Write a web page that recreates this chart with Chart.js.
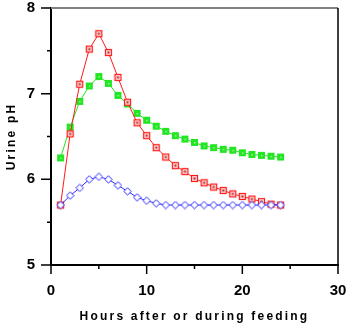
<!DOCTYPE html>
<html><head><meta charset="utf-8">
<script src="https://cdn.jsdelivr.net/npm/chart.js@4/dist/chart.umd.min.js"></script>
<style>html,body{margin:0;padding:0;background:#fff}#wrap{width:352px;height:330px}</style>
</head><body><div id="wrap"><canvas id="c"></canvas></div>
<script>
const hours = [1,2,3,4,5,6,7,8,9,10,11,12,13,14,15,16,17,18,19,20,21,22,23,24];
const redSeries = [5.70,6.53,7.11,7.52,7.70,7.48,7.19,6.90,6.66,6.51,6.37,6.26,6.16,6.09,6.01,5.96,5.91,5.87,5.83,5.80,5.77,5.74,5.71,5.70];
const greenSeries = [6.25,6.61,6.91,7.09,7.20,7.12,6.98,6.88,6.77,6.69,6.62,6.56,6.51,6.47,6.43,6.39,6.37,6.35,6.34,6.31,6.29,6.28,6.27,6.26];
const blueSeries = [5.70,5.81,5.90,6.00,6.03,6.00,5.93,5.86,5.79,5.75,5.72,5.70,5.70,5.70,5.70,5.70,5.70,5.70,5.70,5.70,5.70,5.70,5.70,5.70];
const xMajorTicks = [0,10,20,30];
const xMinorTicks = [5,15,25];
const yMajorTicks = [5,6,7,8];
const yMinorTicks = [5.5,6.5,7.5];
const xTitle = 'Hours after or during feeding';
const yTitle = 'Urine pH';

function pts(vals){ return hours.map((h,i)=>({x:h,y:vals[i]})); }

function mk(w,h,fn){ const c=document.createElement('canvas'); c.width=w; c.height=h; fn(c.getContext('2d')); return c; }
const redMark = mk(9,9,g=>{ g.fillStyle='#ffd8d8'; g.fillRect(1,1,7,7); g.strokeStyle='#ff1a1a'; g.lineWidth=1.2; g.strokeRect(1.5,1.5,6,6); g.fillStyle='#b02020'; g.fillRect(3.5,3.5,2,2); });
const greenMark = mk(9,9,g=>{ g.fillStyle='#22e622'; g.fillRect(1,1,7,7); g.fillStyle='#a8f0a8'; g.fillRect(4,4,1.5,1.5); });
const blueMark = mk(9,9,g=>{ g.beginPath(); g.moveTo(4.5,0.8); g.lineTo(8.2,4.5); g.lineTo(4.5,8.2); g.lineTo(0.8,4.5); g.closePath(); g.fillStyle='#fff'; g.fill(); g.strokeStyle='#2a2aff'; g.lineWidth=1; g.stroke(); });

const spacedTitles = {
  id:'spacedTitles',
  beforeDraw(chart){
    Object.values(chart.scales).forEach(s=>{
      if (s._spaced) return;
      const orig = s.drawTitle;
      s.drawTitle = function(){ const c=this.ctx; c.letterSpacing='2.2px'; orig.apply(this, arguments); c.letterSpacing='0px'; };
      s._spaced = true;
    });
  }
};

const frame = {
  id:'frame',
  afterDraw(chart){
    const {ctx, chartArea:a, scales:{x,y}} = chart;
    ctx.save();
    ctx.strokeStyle='#808080'; ctx.lineWidth=2;
    ctx.beginPath(); ctx.moveTo(a.left, a.top); ctx.lineTo(a.right, a.top); ctx.stroke();
    ctx.strokeStyle='#000'; ctx.lineWidth=1.5;
    ctx.beginPath(); ctx.moveTo(a.right, a.top); ctx.lineTo(a.right, a.bottom); ctx.stroke();
    ctx.strokeStyle='#000'; ctx.lineWidth=1.5;
    ctx.beginPath();
    xMajorTicks.forEach(v=>{ const p=x.getPixelForValue(v); ctx.moveTo(p,a.bottom); ctx.lineTo(p,a.bottom+9); });
    xMinorTicks.forEach(v=>{ const p=x.getPixelForValue(v); ctx.moveTo(p,a.bottom); ctx.lineTo(p,a.bottom+4); });
    yMajorTicks.forEach(v=>{ const p=y.getPixelForValue(v); ctx.moveTo(a.left,p); ctx.lineTo(a.left-10,p); });
    yMinorTicks.forEach(v=>{ const p=y.getPixelForValue(v); ctx.moveTo(a.left,p); ctx.lineTo(a.left-4,p); });
    ctx.stroke();
    ctx.restore();
  }
};

const font = '"Liberation Sans", Arial, sans-serif';
new Chart(document.getElementById('c'), {
  type:'line',
  data:{ datasets:[
    {data:pts(blueSeries), borderColor:'#2a2aff', borderWidth:1, pointStyle:blueMark, order:0},
    {data:pts(redSeries), borderColor:'#ff1a1a', borderWidth:1, pointStyle:redMark, order:1},
    {data:pts(greenSeries), borderColor:'#22e622', borderWidth:1, pointStyle:greenMark, order:2}
  ]},
  options:{
    responsive:true, maintainAspectRatio:false, animation:false,
    layout:{padding:{left:0,right:14,top:8,bottom:0}},
    plugins:{legend:{display:false}, tooltip:{enabled:false}},
    elements:{line:{tension:0}, point:{radius:4, hoverRadius:4}},
    scales:{
      x:{ type:'linear', min:0, max:30,
        afterFit(s){ s.height = 65; s.paddingLeft = 0; s.paddingRight = 0; },
        grid:{display:true, drawOnChartArea:false, drawTicks:false},
        border:{display:true, color:'#000', width:2},
        ticks:{stepSize:10, padding:17, color:'#000', font:{family:font, size:15, weight:'bold'}},
        title:{display:true, text:xTitle, color:'#000', font:{family:font, size:12, weight:'bold'}, padding:{top:0,bottom:6}}
      },
      y:{ min:5, max:8,
        afterFit(s){ s.width = 51; s.paddingTop = 0; s.paddingBottom = 0; },
        grid:{display:true, drawOnChartArea:false, drawTicks:false},
        border:{display:true, color:'#000', width:2},
        ticks:{stepSize:1, padding:16, color:'#000', font:{family:font, size:15, weight:'bold'}},
        title:{display:true, text:yTitle, color:'#000', font:{family:font, size:12, weight:'bold'}, padding:{top:4,bottom:0}}
      }
    }
  },
  plugins:[spacedTitles, frame]
});
</script></body></html>
